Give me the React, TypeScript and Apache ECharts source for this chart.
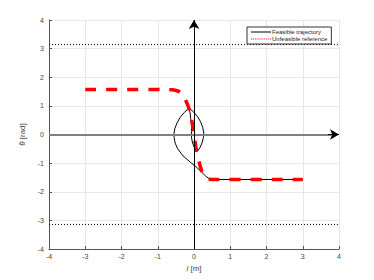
import React, { useEffect, useRef } from "react";
import * as echarts from "echarts";

const PI = Math.PI;
const xTicks = [-4, -3, -2, -1, 0, 1, 2, 3, 4];
const yTicks = [-4, -3, -2, -1, 0, 1, 2, 3, 4];

const feasible: number[][] = [
  [3, -1.5708], [0.5, -1.5708], [0.42, -1.55], [0.32, -1.45], [0.2, -1.3],
  [0.05, -1.12], [-0.1, -0.97], [-0.3, -0.75], [-0.45, -0.5], [-0.52, -0.3],
  [-0.55, -0.1], [-0.55, 0.05], [-0.53, 0.2], [-0.47, 0.4], [-0.38, 0.6],
  [-0.27, 0.77], [-0.13, 0.92], [-0.02, 0.8], [0.1, 0.62], [0.18, 0.45],
  [0.24, 0.25], [0.27, 0.05], [0.26, -0.1], [0.22, -0.3], [0.16, -0.47],
  [0.08, -0.6], [0.02, -0.48], [-0.04, -0.3], [-0.07, -0.1], [-0.07, 0.1],
  [-0.07, 0.3], [-0.09, 0.55], [-0.11, 0.78], [-0.13, 0.92],
];

const unfeasible: number[][] = [
  [-3, 1.5708], [-0.8, 1.5708], [-0.6, 1.56], [-0.45, 1.52], [-0.35, 1.45],
  [-0.25, 1.25], [-0.15, 0.95], [-0.07, 0.55], [0, 0], [0.06, -0.5],
  [0.14, -0.95], [0.22, -1.3], [0.3, -1.48], [0.42, -1.56], [0.6, -1.5708],
  [3, -1.5708],
];

const upperLimit: number[][] = [[-4, PI], [4, PI]];
const lowerLimit: number[][] = [[-4, -PI], [4, -PI]];

const FONT = "Liberation Sans";

export default function App() {
  const ref = useRef<HTMLDivElement>(null);
  useEffect(() => {
    if (!ref.current) return;
    const chart = echarts.init(ref.current, undefined, { renderer: "svg" });
    const axisCommon = {
      type: "value" as const,
      min: -4,
      max: 4,
      interval: 1,
      axisLine: { show: true, onZero: false, lineStyle: { color: "#555", width: 1 } },
      axisTick: { show: true, inside: true, length: 3, lineStyle: { color: "#555" } },
      axisLabel: { fontSize: 7, color: "#444", fontFamily: FONT },
      splitLine: { show: true, lineStyle: { color: "#e6e6e6", width: 1 } },
      nameTextStyle: {
        fontSize: 8,
        color: "#444",
        fontFamily: FONT,
        rich: { i: { fontSize: 8, color: "#444", fontFamily: FONT, fontStyle: "italic" } },
      },
    };
    chart.setOption({
      animation: false,
      backgroundColor: "#fff",
      grid: { left: 49, right: 35, top: 20, bottom: 31, containLabel: false },
      xAxis: {
        ...axisCommon,
        name: "{i|l} [m]",
        nameLocation: "middle",
        nameGap: 14,
        axisLabel: { ...axisCommon.axisLabel, margin: 4 },
      },
      yAxis: {
        ...axisCommon,
        name: "{i|θ̃} [rad]",
        nameLocation: "middle",
        nameGap: 16,
        axisLabel: { ...axisCommon.axisLabel, margin: 5 },
      },
      legend: {
        orient: "vertical",
        left: 247,
        top: 27,
        itemWidth: 20,
        itemHeight: 5,
        itemGap: 1,
        padding: [2, 4, 2, 4],
        borderColor: "#333",
        borderWidth: 1,
        borderRadius: 0,
        backgroundColor: "#fff",
        textStyle: { fontSize: 6, color: "#222", fontFamily: FONT, padding: [0, 0, 0, -4] },
        data: [
          { name: "Feasible trajectory", icon: "path://M0,0H20V1H0Z", itemStyle: { color: "#000" } },
          {
            name: "Unfeasible reference",
            icon: "path://M0,0H1V1H0ZM2,0H3V1H2ZM4,0H5V1H4ZM6,0H7V1H6ZM8,0H9V1H8ZM10,0H11V1H10ZM12,0H13V1H12ZM14,0H15V1H14ZM16,0H17V1H16ZM18,0H19V1H18Z",
            itemStyle: { color: "#ff0000" },
          },
        ],
      },
      series: [
        {
          type: "line",
          name: "axes",
          data: [],
          silent: true,
          markLine: {
            silent: true,
            animation: false,
            label: { show: false },
            data: [
              [
                { coord: [-4, 0], symbol: "none", lineStyle: { color: "#808080", width: 2, type: "solid" } },
                { coord: [3.8, 0], symbol: "none" },
              ],
              [
                { coord: [3.7, 0], symbol: "none", lineStyle: { color: "#000", width: 1, type: "solid" } },
                { coord: [4, 0], symbol: "arrow", symbolSize: [8, 9] },
              ],
              [
                { coord: [0, -4], symbol: "none", lineStyle: { color: "#000", width: 1, type: "solid" } },
                { coord: [0, 4], symbol: "arrow", symbolSize: [8, 9] },
              ],
            ],
          },
        },
        {
          type: "line",
          name: "upper",
          data: upperLimit,
          symbol: "none",
          lineStyle: { color: "#000", width: 1, type: [1, 2] },
          silent: true,
        },
        {
          type: "line",
          name: "lower",
          data: lowerLimit,
          symbol: "none",
          lineStyle: { color: "#000", width: 1, type: [1, 2] },
          silent: true,
        },
        {
          type: "line",
          name: "Feasible trajectory",
          data: feasible,
          symbol: "none",
          smooth: false,
          lineStyle: { color: "#000", width: 1 },
          itemStyle: { color: "#000" },
          z: 3,
        },
        {
          type: "line",
          name: "Unfeasible reference",
          data: unfeasible,
          symbol: "none",
          smooth: 0.3,
          lineStyle: { color: "#ff0000", width: 3.5, type: [11, 10] },
          itemStyle: { color: "#ff0000" },
          z: 4,
        },
      ],
    });
    return () => chart.dispose();
  }, []);
  return (
    <div
      ref={ref}
      style={{ position: "fixed", left: 0, top: 0, width: 374, height: 280, background: "#fff" }}
    />
  );
}
